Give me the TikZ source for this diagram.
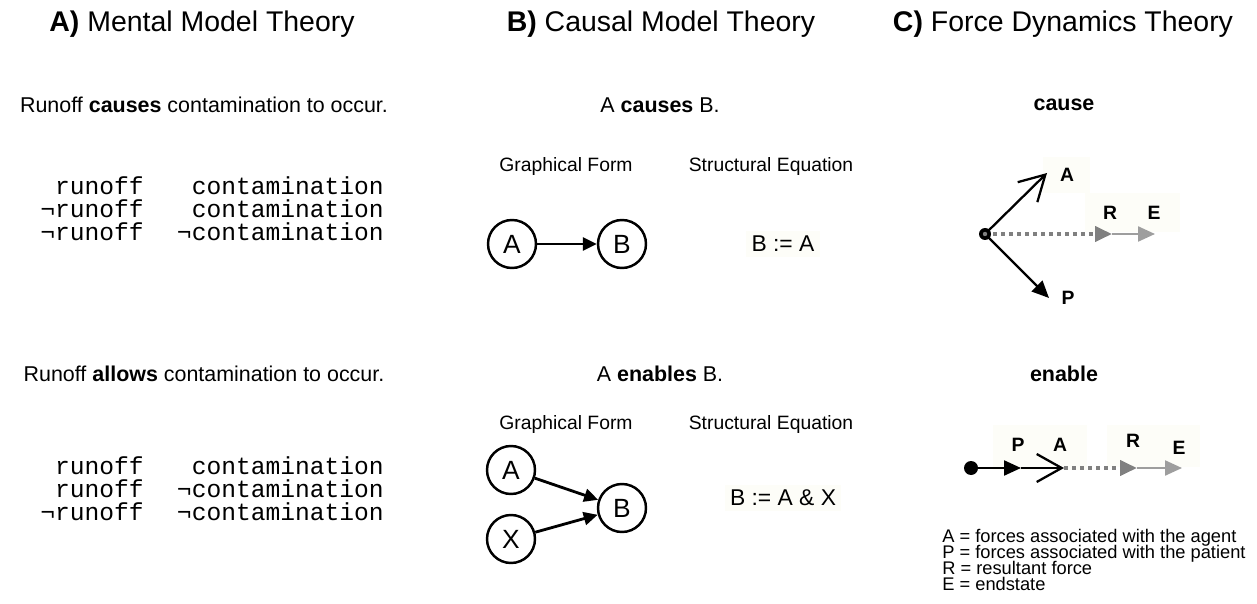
\documentclass[tikz,border=0pt]{standalone}
\usepackage{fontspec}
\setmainfont{Liberation Sans}
\setmonofont{Liberation Mono}
\usetikzlibrary{positioning, arrows.meta}
\definecolor{tint}{RGB}{253,253,248}
\definecolor{resgray}{RGB}{128,128,128}
\definecolor{endgray}{RGB}{158,158,158}
\tikzset{
  ttl/.style   = {font=\fontsize{16.2}{19}\selectfont, inner sep=0pt},
  sent/.style  = {font=\fontsize{12.2}{14}\selectfont, inner sep=0pt},
  hdr/.style   = {font=\fontsize{11}{13}\selectfont, inner sep=0pt},
  eqn/.style   = {font=\fontsize{13}{15}\selectfont, inner sep=3pt, fill=tint},
  mm/.style    = {font=\ttfamily\fontsize{14}{16}\selectfont, anchor=base east, inner sep=0pt},
  var/.style   = {draw, circle, line width=1.4pt, minimum size=0.96cm, inner sep=0pt,
                  font=\fontsize{15}{17}\selectfont},
  ar/.style    = {-{Triangle[length=2.8mm, width=2.6mm]}, line width=1.6pt},
  agt/.style   = {-{Straight Barb[length=5mm, width=5.6mm]}, line width=1.3pt},
  pat/.style   = {-{Triangle[length=3.4mm, width=3mm]}, line width=1.3pt},
  res/.style   = {-{Triangle[length=3.4mm, width=3mm]}, resgray, line width=2.2pt,
                  dash pattern=on 0.08cm off 0.08cm},
  fin/.style   = {-{Triangle[length=3.4mm, width=3mm]}, endgray, line width=1.3pt},
  fl/.style    = {font=\bfseries\fontsize{11}{13}\selectfont, inner sep=0pt},
  leg/.style   = {font=\fontsize{10.4}{12}\selectfont, anchor=base west, inner sep=0pt},
}
\begin{document}
\begin{tikzpicture}[x=0.02cm, y=-0.02cm]
  \useasboundingbox (0,0) rectangle (1257,604);
  % faint backdrops
  \fill[tint] (1043,157) rectangle (1090,193);
  \fill[tint] (1085,193) rectangle (1180,232);
  \fill[tint] (993,425) rectangle (1087,470);
  \fill[tint] (1107,425) rectangle (1200,467);

  % titles
  \node[ttl] (tA) at (202,24) {\textbf{A)} Mental Model Theory};
  \node[ttl] (tB) at (661,24) {\textbf{B)} Causal Model Theory};
  \node[ttl] (tC) at (1063,24) {\textbf{C)} Force Dynamics Theory};

  % A) mental models
  \node[sent] (sA1) at (204,105) {Runoff \textbf{causes} contamination to occur.};
  \node[mm] (r11) at (144,195) {runoff};
  \node[mm] (r12) at (144,218) {¬runoff};
  \node[mm] (r13) at (144,241) {¬runoff};
  \node[mm] (c11) at (384,195) {contamination};
  \node[mm] (c12) at (384,218) {contamination};
  \node[mm] (c13) at (384,241) {¬contamination};

  \node[sent] (sA2) at (204,374) {Runoff \textbf{allows} contamination to occur.};
  \node[mm] (r21) at (144,474) {runoff};
  \node[mm] (r22) at (144,497) {runoff};
  \node[mm] (r23) at (144,520) {¬runoff};
  \node[mm] (c21) at (384,474) {contamination};
  \node[mm] (c22) at (384,497) {¬contamination};
  \node[mm] (c23) at (384,520) {¬contamination};

  % B) causal models
  \node[sent] (sB1) at (660,105) {A \textbf{causes} B.};
  \node[hdr] (g1) at (566,167) {Graphical Form};
  \node[hdr] (e1) at (771,167) {Structural Equation};
  \node[var] (a1) at (512,244) {A};
  \node[var] (b1) at (622,244) {B};
  \draw[ar] (a1) -- (b1);
  \node[eqn] (q1) at (783,244) {B := A};

  \node[sent] (sB2) at (660,374) {A \textbf{enables} B.};
  \node[hdr] (g2) at (566,425) {Graphical Form};
  \node[hdr] (e2) at (771,425) {Structural Equation};
  \node[var] (a2) at (511,470) {A};
  \node[var] (x2) at (511,539) {X};
  \node[var] (b2) at (622,508) {B};
  \draw[ar] (a2) -- (b2);
  \draw[ar] (x2) -- (b2);
  \node[eqn] (q2) at (783,498) {B := A \& X};

  % C) force dynamics, cause
  \node[sent, font=\bfseries\fontsize{12.2}{14}\selectfont] (sC1) at (1064,105) {cause};
  \coordinate (o1) at (985,234);
  \coordinate (pa1) at (1047,173);
  \coordinate (pp1) at (1049,298);
  \coordinate (pr1) at (1112,234);
  \coordinate (pe1) at (1155,234);
  \draw[agt] (o1) -- (pa1);
  \draw[pat] (o1) -- (pp1);
  \draw[res] (o1) -- (pr1);
  \draw[fin] (pr1) -- (pe1);
  \fill (o1) circle[radius=6];
  \fill[resgray] (o1) circle[radius=2.2];
  \node[fl] (lA1) at (1067,175) {A};
  \node[fl] (lR1) at (1110,213) {R};
  \node[fl] (lE1) at (1154,213) {E};
  \node[fl] (lP1) at (1068,298) {P};

  % C) force dynamics, enable
  \node[sent, font=\bfseries\fontsize{12.2}{14}\selectfont] (sC2) at (1064,374) {enable};
  \coordinate (o2) at (971,468);
  \coordinate (pp2) at (1021,468);
  \coordinate (pa2) at (1064,468);
  \coordinate (pr2) at (1137,468);
  \coordinate (pe2) at (1182,468);
  \draw[pat] (o2) -- (pp2);
  \draw[agt] (pp2) -- (pa2);
  \draw[res] (pa2) -- (pr2);
  \draw[fin] (pr2) -- (pe2);
  \fill (o2) circle[radius=7];
  \node[fl] (lP2) at (1018,445) {P};
  \node[fl] (lA2) at (1060,445) {A};
  \node[fl] (lR2) at (1133,441) {R};
  \node[fl] (lE2) at (1179,448) {E};

  % legend
  \node[leg] (k1) at (942,542) {A = forces associated with the agent};
  \node[leg] (k2) at (942,558) {P = forces associated with the patient};
  \node[leg] (k3) at (942,574) {R = resultant force};
  \node[leg] (k4) at (942,590) {E = endstate};
\end{tikzpicture}
\end{document}
